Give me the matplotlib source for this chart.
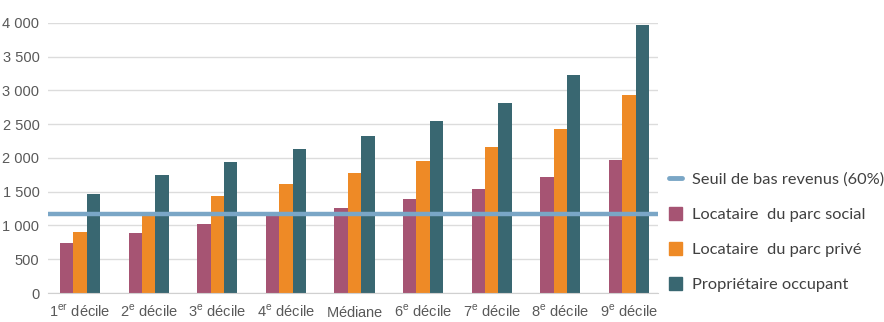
import matplotlib.pyplot as plt
import numpy as np
from matplotlib.lines import Line2D
from matplotlib.patches import Patch

plt.rcParams['mathtext.fontset'] = 'custom'
plt.rcParams['mathtext.rm'] = 'Liberation Sans'

categories = ['1$^{\\rm er}$ décile', '2$^{\\rm e}$ décile', '3$^{\\rm e}$ décile',
              '4$^{\\rm e}$ décile', 'Médiane$\\,$', '6$^{\\rm e}$ décile',
              '7$^{\\rm e}$ décile', '8$^{\\rm e}$ décile', '9$^{\\rm e}$ décile']
social = [741, 889, 1027, 1160, 1259, 1393, 1541, 1714, 1970]
prive = [904, 1180, 1432, 1615, 1778, 1956, 2163, 2430, 2928]
proprio = [1467, 1743, 1941, 2133, 2331, 2553, 2815, 3225, 3975]
seuil = 1170

labels = ['Locataire  du parc social', 'Locataire  du parc privé', 'Propriétaire occupant']
colors = ['#A65473', '#EE8A26', '#396771']
seuil_color = '#7AA6C6'

fig = plt.figure(figsize=(8.84, 3.22), dpi=100)
ax = fig.add_axes([0.054, 0.09, 0.69, 0.839])

x = np.arange(len(categories))
w = 0.195
for i, (vals, c) in enumerate(zip([social, prive, proprio], colors)):
    ax.bar(x + (i - 1) * w, vals, w, color=c, zorder=2)
ax.axhline(seuil, color=seuil_color, lw=3.2, zorder=3)

ax.set_xlim(-0.47, 8.42)
ax.set_ylim(0, 4000)
ax.set_yticks(range(0, 4001, 500))
ax.set_yticklabels([f'{v:,}'.replace(',', ' ') for v in range(0, 4001, 500)])
ax.set_xticks(x)
ax.set_xticklabels(categories, va='baseline')
ax.tick_params(length=0, labelsize=10.5, labelcolor='#595959', pad=6)
ax.tick_params(axis='x', pad=17)
for t in ax.get_xticklabels() + ax.get_yticklabels():
    t.set_family('Liberation Sans')
ax.grid(axis='y', color='#DCDCDC', lw=1, zorder=0)
for s in ['top', 'right', 'left']:
    ax.spines[s].set_visible(False)
ax.spines['bottom'].set_color('#D0D0D0')

handles = [Line2D([0], [0], color=seuil_color, lw=3.5, solid_capstyle='round')]
handles += [Patch(color=c) for c in colors]
fig.legend(handles, ['Seuil de bas revenus (60%)'] + labels,
           loc='center left', bbox_to_anchor=(0.74, 0.28),
           frameon=False, handlelength=0.8, handleheight=0.9,
           handletextpad=0.6, labelspacing=1.2,
           prop={'family': 'Lato', 'size': 11.8}, labelcolor='#404040')

plt.savefig('out.png', dpi=100)
